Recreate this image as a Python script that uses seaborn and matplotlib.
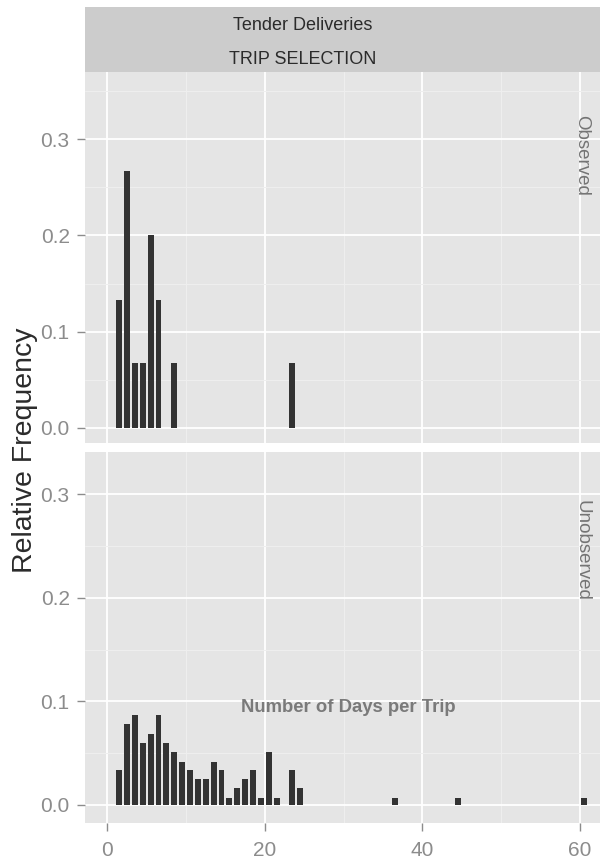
import numpy as np
import pandas as pd
import matplotlib
matplotlib.use("Agg")
import matplotlib.pyplot as plt
import seaborn as sns
from matplotlib.ticker import MultipleLocator

# ---- data ----
obs_days = [1, 2, 3, 4, 5, 6, 8, 23]
obs_freq = [0.133, 0.267, 0.067, 0.067, 0.200, 0.133, 0.067, 0.067]

unobs_days = [1, 2, 3, 4, 5, 6, 7, 8, 9, 10, 11, 12, 13, 14, 15, 16, 17, 18, 19, 20, 21,
              23, 24, 36, 44, 60]
unobs_freq = [0.034, 0.078, 0.087, 0.060, 0.069, 0.087, 0.060, 0.051, 0.042, 0.034,
              0.025, 0.025, 0.042, 0.034, 0.007, 0.016, 0.025, 0.034, 0.007, 0.051,
              0.007, 0.034, 0.016, 0.007, 0.007, 0.007]

panel_labels = ["Observed", "Unobserved"]
strip_title = ["Tender Deliveries", "TRIP SELECTION"]
x_label = "Number of Days per Trip"
y_label = "Relative Frequency"
x_ticks = [0, 20, 40, 60]
y_ticks = [0.0, 0.1, 0.2, 0.3]

df = pd.concat([
    pd.DataFrame({"days": obs_days, "freq": obs_freq, "panel": panel_labels[0]}),
    pd.DataFrame({"days": unobs_days, "freq": unobs_freq, "panel": panel_labels[1]}),
])

sns.set_theme(style="darkgrid")
plt.rcParams["font.family"] = ["Liberation Sans", "DejaVu Sans"]

W, H = 600, 861
fig = plt.figure(figsize=(W / 100, H / 100), dpi=100)
fig.patch.set_facecolor("white")

def fx(px):
    return px / W

def fy(py):
    return 1 - py / H

left_px, right_px = 85, 600
panels = [(72, 443, (-0.0156, 0.3697)), (452, 823, (-0.0174, 0.341))]
xlim = (-2.83, 62.54)

axes = []
for i, (top, bot, ylim) in enumerate(panels):
    ax = fig.add_axes([fx(left_px), fy(bot), fx(right_px - left_px), (bot - top) / H])
    sub = df[df["panel"] == panel_labels[i]]
    sns.histplot(data=sub, x="days", weights="freq", binwidth=1, binrange=(0, 63),
                 shrink=0.75, color="#333333", alpha=1, linewidth=0, ax=ax)
    ax.set_facecolor("#E5E5E5")
    ax.set_xlim(*xlim)
    ax.set_ylim(*ylim)
    ax.set_xticks(x_ticks)
    ax.set_yticks(y_ticks)
    ax.xaxis.set_minor_locator(MultipleLocator(10))
    ax.yaxis.set_minor_locator(MultipleLocator(0.05))
    ax.grid(which="major", color="white", linewidth=1.3)
    ax.grid(which="minor", color="#EFEFEF", linewidth=0.7)
    ax.set_axisbelow(True)
    for s in ax.spines.values():
        s.set_visible(False)
    ax.set_xlabel("")
    ax.set_ylabel("")
    ax.set_yticklabels(["0.0", "0.1", "0.2", "0.3"])
    ax.tick_params(axis="y", which="major", length=6, width=1, color="#8c8c8c",
                   labelcolor="#8c8c8c", labelsize=15, pad=5, left=True)
    ax.tick_params(which="minor", length=0)
    if i == 0:
        ax.tick_params(axis="x", which="major", length=0, labelbottom=False, bottom=False)
    else:
        ax.tick_params(axis="x", which="major", length=6, width=1, color="#8c8c8c",
                       labelcolor="#8c8c8c", labelsize=15, pad=7, bottom=True)
    axes.append(ax)

# top strip
strip = fig.add_axes([fx(left_px), fy(72), fx(right_px - left_px), (72 - 7.3) / H])
strip.set_facecolor("#CCCCCC")
strip.set_xticks([])
strip.set_yticks([])
for s in strip.spines.values():
    s.set_visible(False)
strip.grid(False)

fig.text(fx(303), fy(26), strip_title[0], ha="center", va="center",
         fontsize=13, color="#2b2b2b")
fig.text(fx(303), fy(59.5), strip_title[1], ha="center", va="center",
         fontsize=13, color="#2b2b2b")

# right facet labels (drawn over the panels, as in the reference)
fig.text(fx(582), fy(155), panel_labels[0], rotation=-90, ha="center", va="center",
         fontsize=13.5, color="#747474")
fig.text(fx(582), fy(550), panel_labels[1], rotation=-90, ha="center", va="center",
         fontsize=13.5, color="#747474")

# axis titles
fig.text(fx(25), fy(450), y_label, rotation=90, ha="center", va="center",
         fontsize=20.5, color="#2b2b2b")
fig.text(fx(348), fy(708), x_label, ha="center", va="center",
         fontsize=13.3, fontweight="bold", color="#7a7a7a")

fig.savefig("out.png", dpi=100)
